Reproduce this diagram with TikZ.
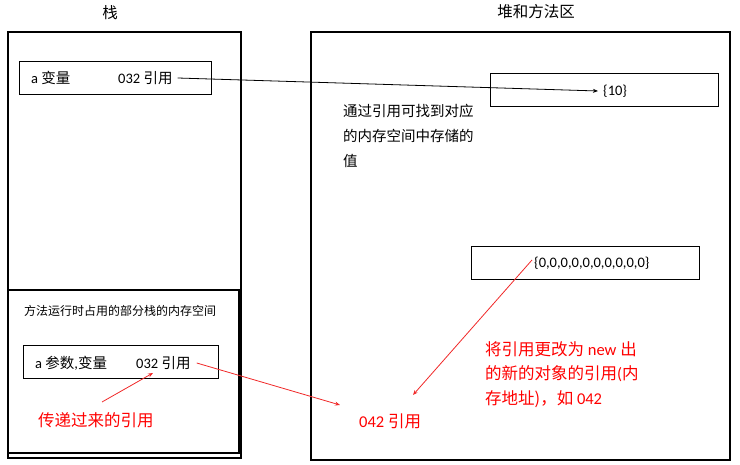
\documentclass[tikz,border=0pt]{standalone}
\usepackage{fontspec}
\setmainfont{Carlito}
\newfontfamily\cjk{Noto Sans CJK SC}
\usetikzlibrary{arrows.meta}
\definecolor{redtxt}{RGB}{255,0,0}
\definecolor{redline}{RGB}{240,40,40}
\begin{document}
\begin{tikzpicture}[x=1pt,y=-1pt,
  bigbox/.style={draw, line width=2.4pt, anchor=north west, inner sep=0pt, outer sep=0pt},
  smallbox/.style={draw, line width=0.9pt, anchor=north west, inner sep=0pt, outer sep=0pt, minimum height=33pt},
  txt/.style={inner sep=0pt, anchor=west, font=\fontsize{14.5}{17}\selectfont},
  title/.style={inner sep=0pt, font=\fontsize{15.5}{18}\selectfont\cjk},
  redtext/.style={inner sep=0pt, text=redtxt, font=\fontsize{16.5}{24.5}\selectfont},
  blackarrow/.style={draw, line width=0.8pt, -{Stealth[length=5pt,width=4pt]}},
  redarrow/.style={draw=redline, line width=0.8pt, -{Stealth[length=5pt,width=4pt]}}]
\useasboundingbox (0,0) rectangle (740,465);
% titles
\node[title] (t1) at (110,13) {栈};
\node[title] (t2) at (536,12) {堆和方法区};
% frames
\node[bigbox, minimum width=233pt, minimum height=426pt] (stack) at (8,32) {};
\node[bigbox, minimum width=231pt, minimum height=163pt] (frame) at (8,290) {};
\node[bigbox, minimum width=419pt, minimum height=428pt] (heap) at (311,32) {};
% boxes
\node[smallbox, minimum width=192pt] (varbox) at (19,61) {};
\node[smallbox, minimum width=195pt] (parbox) at (23,345) {};
\node[smallbox, minimum width=228pt] (box10) at (490,73) {};
\node[smallbox, minimum width=228pt] (box0) at (471,246) {};
% texts
\node[txt] (avar) at (31,78) {a {\cjk 变量}};
\node[txt] (ref1) at (118,78) {032 {\cjk 引用}};
\node[txt] (v10) at (603,91) {\{10\}};
\node[txt, anchor=north west, align=left, font=\fontsize{14.5}{25}\selectfont\cjk] (desc) at (343,104) {通过引用可找到对应\\的内存空间中存储的\\值};
\node[txt] (zeros) at (534,263) {\{0,0,0,0,0,0,0,0,0,0\}};
\node[txt, font=\fontsize{12}{14}\selectfont\cjk] (mlabel) at (24,311) {方法运行时占用的部分栈的内存空间};
\node[txt] (apar) at (35,363) {a {\cjk 参数},{\cjk 变量}};
\node[txt] (ref2) at (136,363) {032 {\cjk 引用}};
\node[redtext, anchor=west] (passed) at (38,420) {\cjk 传递过来的引用};
\node[redtext, anchor=west] (ref042) at (359,421) {042 {\cjk 引用}};
\node[redtext, anchor=north west, align=left] (newtxt) at (485,341) {{\cjk 将引用更改为} new {\cjk 出}\\{\cjk 的新的对象的引用}(\cjk 内\\{\cjk 存地址)，如} 042};
% connector ends
\coordinate (tipA) at (340,405);
\coordinate (tipB) at (413,395);
\coordinate (startC) at (102,402);
\coordinate (tipC) at (153,373);
% connectors
\draw[blackarrow] ([xshift=5pt]ref1.east) -- ([xshift=-5pt]v10.west);
\draw[redarrow] ([xshift=6pt]ref2.east) -- (tipA);
\draw[redarrow] ([xshift=-2pt,yshift=3pt]zeros.west) -- (tipB);
\draw[redarrow] (startC) -- (tipC);
\end{tikzpicture}
\end{document}
